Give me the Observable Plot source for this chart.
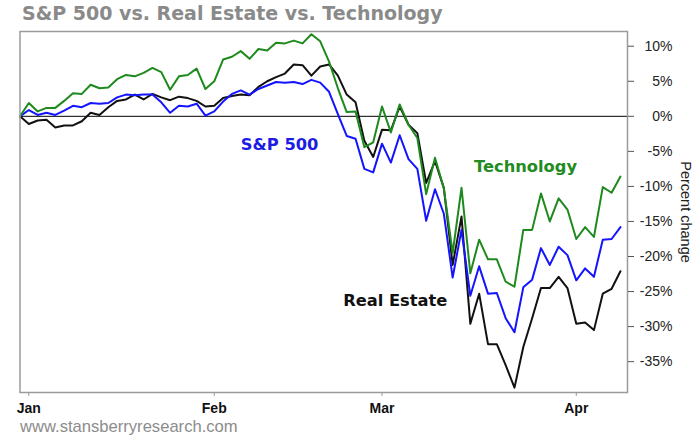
<!DOCTYPE html>
<html><head><meta charset="utf-8">
<script src="https://cdn.jsdelivr.net/npm/d3@7"></script>
<script src="https://cdn.jsdelivr.net/npm/@observablehq/plot@0.6"></script>
<style>
html,body{margin:0;padding:0;background:#fff;overflow:hidden;width:695px;height:435px}
#title{height:26px;line-height:26px;font-family:"DejaVu Sans",sans-serif;font-weight:bold;font-size:19px;color:#8a8a8a;padding-left:22px;white-space:nowrap}
#foot{height:17px;line-height:17px;font-family:"Liberation Sans",Arial,sans-serif;font-size:16.6px;color:#8c8c8c;padding-left:20px;white-space:nowrap}
#chart svg{display:block}
</style></head><body>
<div id="title">S&amp;P 500 vs. Real Estate vs. Technology</div>
<div id="chart"></div>
<div id="foot">www.stansberryresearch.com</div>
<script>
// Percent change since Dec 31, one value per trading day (index 0 = Dec 31)
const technology = [0, 1.9, 0.7, 1.2, 1.2, 2.2, 3.3, 3.2, 4.5, 4.0, 4.1, 5.3, 5.9, 5.7, 6.2, 6.9, 6.3, 3.8, 5.7, 5.9, 6.8, 3.9, 5.0,
  8.1, 8.5, 9.3, 8.2, 9.6, 9.4, 10.5, 10.4, 10.8, 10.4, 11.7, 10.7, 7.8, 4.0, 0.6, 0.7, -4.4, -3.7,
  1.4, -2.3, 1.7, -1.2, -3.1, -11.1, -5.9, -10.3, -19.5, -10.2, -22.4, -17.6, -20.4, -20.4, -23.6, -24.3,
  -16.2, -16.2, -11.0, -15.0, -11.7, -13.3, -17.5, -15.8, -17.2, -10.1, -10.9, -8.6];
const sp500 = [0, 0.9, 0.2, 0.5, 0.2, 0.8, 1.5, 1.3, 1.9, 1.8, 1.9, 2.7, 3.1, 3.0, 3.1, 3.1, 2.0, 0.5, 1.5, 1.4, 1.8, 0.1, 0.7,
  2.1, 3.2, 3.7, 3.1, 3.9, 4.4, 4.9, 4.8, 4.9, 4.6, 5.2, 4.8, 3.5, 0.3, -2.8, -3.2, -7.5, -8.0,
  -3.9, -6.6, -2.7, -6.1, -7.5, -14.9, -10.4, -13.9, -23.0, -16.2, -25.6, -21.4, -25.3, -25.2, -28.8, -30.8,
  -24.4, -23.3, -18.8, -21.2, -18.6, -19.8, -23.4, -21.7, -22.9, -17.6, -17.5, -15.8];
const realEstate = [0, -1.1, -0.6, -0.5, -1.6, -1.3, -1.3, -0.7, 0.5, 0.2, 1.3, 2.2, 2.4, 3.1, 2.4, 3.2, 2.7, 2.3, 2.8, 2.6, 2.2, 1.4, 1.5,
  2.6, 2.9, 3.1, 3.0, 4.2, 5.0, 5.6, 6.1, 7.4, 7.3, 5.8, 7.1, 7.4, 5.8, 3.1, 2.0, -3.5, -5.8,
  -1.9, -2.0, 1.4, -1.2, -2.4, -9.5, -6.4, -10.2, -21.2, -14.3, -29.6, -25.3, -32.5, -32.5, -35.5, -38.7,
  -32.9, -28.8, -24.5, -24.5, -22.9, -24.5, -29.6, -29.4, -30.5, -25.3, -24.6, -22.1];
const monthLabels = ["Jan", "Feb", "Mar", "Apr"];
const monthTickIndex = [1, 22, 41, 63]; // first trading day of each month
const yTicks = [10, 5, 0, -5, -10, -15, -20, -25, -30, -35];
const seriesNames = ["S&P 500", "Technology", "Real Estate"];

const colors = {"S&P 500": "#1414ff", "Technology": "#1e8a1e", "Real Estate": "#111111"};
const textColors = {"S&P 500": "#1c1ce6", "Technology": "#228b22", "Real Estate": "#111111"};
// label anchors in data units (trading-day index, percent)
const labelAnchors = [
  {name: "S&P 500", i: 29.4, v: -4.8},
  {name: "Technology", i: 57.25, v: -8.0},
  {name: "Real Estate", i: 42.5, v: -27.1}
];

const toRows = (arr, name) => arr.map((v, i) => ({i, v, name}));
const rows = [
  ...toRows(realEstate, "Real Estate"),
  ...toRows(sp500, "S&P 500"),
  ...toRows(technology, "Technology")
];

const chart = Plot.plot({
  width: 695,
  height: 392,
  marginTop: 5,
  marginBottom: 26,
  marginLeft: 19.5,
  marginRight: 68,
  style: {fontFamily: "'Liberation Sans', Arial, sans-serif", fontSize: "14px", background: "#fff"},
  x: {type: "linear", domain: [0, 68.8]},
  y: {type: "linear", domain: [-39.4, 12.1]},
  marks: [
    Plot.ruleY([0], {stroke: "#000", strokeWidth: 1}),
    Plot.line(rows.filter(d => d.name === "Real Estate"), {x: "i", y: "v", stroke: colors["Real Estate"], strokeWidth: 2, strokeLinejoin: "round"}),
    Plot.line(rows.filter(d => d.name === "S&P 500"), {x: "i", y: "v", stroke: colors["S&P 500"], strokeWidth: 2, strokeLinejoin: "round"}),
    Plot.line(rows.filter(d => d.name === "Technology"), {x: "i", y: "v", stroke: colors["Technology"], strokeWidth: 2, strokeLinejoin: "round"}),
    Plot.frame({stroke: "#9a9a9a", strokeWidth: 1.5}),
    Plot.axisX({ticks: monthTickIndex, tickSize: 4, tickFormat: () => "", stroke: "#9a9a9a", label: null}),
    Plot.text(monthLabels, {x: (d, k) => monthTickIndex[k], text: d => d, frameAnchor: "bottom", dy: 20, lineAnchor: "bottom", fontWeight: "bold", fontSize: 14, fill: "#111"}),
    Plot.axisY({anchor: "right", ticks: yTicks, tickSize: 6, tickFormat: () => "", stroke: "#555", label: null}),
    Plot.text(yTicks, {y: d => d, text: d => d + "%", frameAnchor: "right", dx: 45, textAnchor: "end", lineAnchor: "middle", fontSize: 14, fill: "#222"}),
    Plot.text(["Percent change"], {frameAnchor: "right", dx: 58, rotate: 90, textAnchor: "middle", lineAnchor: "middle", fontSize: 14.5, fill: "#222"}),
    Plot.text(labelAnchors, {x: "i", y: "v", text: "name", fill: d => textColors[d.name], textAnchor: "middle", lineAnchor: "bottom",
      fontFamily: "'DejaVu Sans', sans-serif", fontWeight: "bold", fontSize: 16.3})
  ]
});
document.getElementById("chart").appendChild(chart);
</script>
</body></html>
